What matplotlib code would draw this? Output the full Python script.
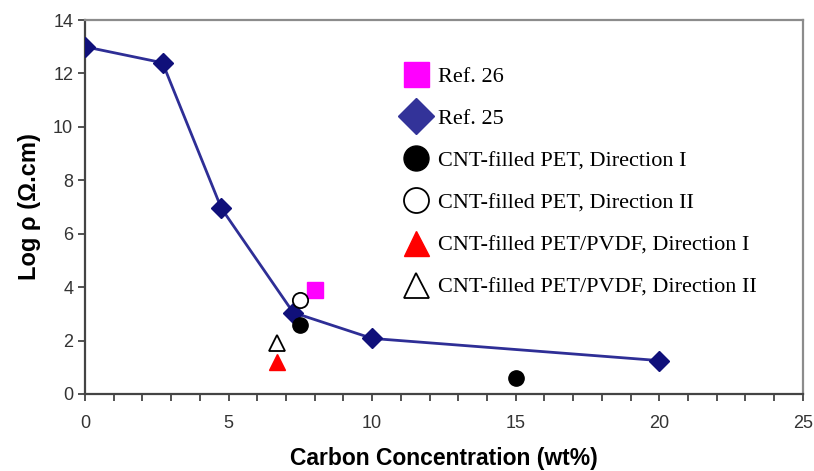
import numpy as np
import matplotlib
matplotlib.use("Agg")
import matplotlib.pyplot as plt
from matplotlib.lines import Line2D
from matplotlib.ticker import MultipleLocator

# data
ref25_x = [0, 2.7, 4.75, 7.25, 10, 20]
ref25_y = [13.0, 12.4, 6.95, 3.05, 2.08, 1.25]
ref26_x = [8.0]
ref26_y = [3.9]
pet1_x = [7.5, 15]
pet1_y = [2.6, 0.6]
pet2_x = [7.5]
pet2_y = [3.52]
pvdf1_x = [6.7]
pvdf1_y = [1.18]
pvdf2_x = [6.7]
pvdf2_y = [1.92]

labels = ["Ref. 26", "Ref. 25", "CNT-filled PET, Direction I", "CNT-filled PET, Direction II",
          "CNT-filled PET/PVDF, Direction I", "CNT-filled PET/PVDF, Direction II"]

fig = plt.figure(figsize=(8.14, 4.71), dpi=100)
ax = fig.add_axes([0.1044, 0.1635, 0.882, 0.794])

ax.plot(ref25_x, ref25_y, color='#2e2e96', lw=2, zorder=2)
ax.plot(ref25_x, ref25_y, 'D', color='#10107a', ms=10, zorder=3)
ax.plot(ref26_x, ref26_y, 's', color='#ff00ff', ms=11.5, zorder=3)
ax.plot(pet1_x, pet1_y, 'o', color='black', ms=11, zorder=3)
ax.plot(pet2_x, pet2_y, 'o', mfc='white', mec='black', mew=1.3, ms=11, zorder=4)
ax.plot(pvdf1_x, pvdf1_y, '^', color='#ff0000', ms=12, zorder=3)
ax.plot(pvdf2_x, pvdf2_y, '^', mfc='white', mec='black', mew=1.3, ms=12, zorder=3)

ax.set_xlim(0, 25)
ax.set_ylim(0, 14)
ax.xaxis.set_major_locator(MultipleLocator(5))
ax.xaxis.set_minor_locator(MultipleLocator(1))
ax.yaxis.set_major_locator(MultipleLocator(2))
ax.tick_params(which='both', direction='out', length=5, width=1.3, color='#444444',
               labelsize=13, labelcolor='#333333')
ax.tick_params(axis='x', pad=10)
for s in ['left', 'bottom']:
    ax.spines[s].set_color('#444444')
    ax.spines[s].set_linewidth(1.6)
for s in ['top', 'right']:
    ax.spines[s].set_color('#8c8c8c')
    ax.spines[s].set_linewidth(1.6)
for t in ax.get_xticklabels() + ax.get_yticklabels():
    t.set_family('Liberation Sans')

ax.set_xlabel('Carbon Concentration (wt%)', fontsize=16.5, fontweight='bold',
              family='Liberation Sans', labelpad=11)
ax.set_ylabel('Log ρ (Ω.cm)', fontsize=17, fontweight='bold',
              family='Liberation Sans', labelpad=9)

handles = [
    Line2D([], [], ls='none', marker='s', color='#ff00ff', ms=18),
    Line2D([], [], ls='none', marker='D', color='#333399', ms=18),
    Line2D([], [], ls='none', marker='o', color='black', ms=18),
    Line2D([], [], ls='none', marker='o', mfc='white', mec='black', mew=1.3, ms=18),
    Line2D([], [], ls='none', marker='^', color='#ff0000', ms=18),
    Line2D([], [], ls='none', marker='^', mfc='white', mec='black', mew=1.3, ms=18),
]
ax.legend(handles, labels, loc='upper left', bbox_to_anchor=(0.43, 0.90), frameon=False,
          prop={'family': 'Liberation Serif', 'size': 16}, handlelength=1.2,
          handletextpad=0.4, labelspacing=0.97, borderaxespad=0)

fig.savefig('out.png', dpi=100)
